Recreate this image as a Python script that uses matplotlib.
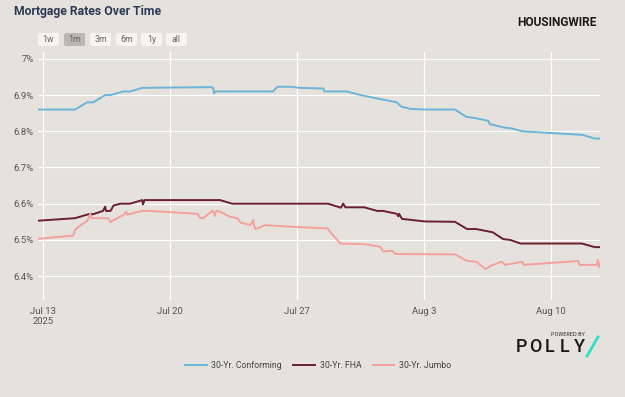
"""Mortgage rates over time (HousingWire / Polly style)."""

import matplotlib
matplotlib.use("Agg")
import matplotlib.pyplot as plt
from matplotlib.patches import FancyBboxPatch
import pandas as pd

# -----------------------------------------------------------------------
# Data
# -----------------------------------------------------------------------
conf_t = ["07-12 17:00", "07-14 18:00", "07-15 10:00", "07-15 18:00", "07-16 10:00",
          "07-16 17:00", "07-17 10:00", "07-17 19:00", "07-18 11:00", "07-22 05:00",
          "07-22 09:00", "07-22 10:00", "07-22 12:00", "07-25 16:00", "07-25 22:00",
          "07-26 15:00", "07-27 04:00", "07-28 11:00", "07-28 12:00", "07-29 18:00",
          "07-30 12:00", "07-31 14:00", "08-01 12:00", "08-01 18:00", "08-02 06:00",
          "08-03 01:00", "08-04 17:00", "08-05 08:00", "08-05 21:00", "08-06 13:00",
          "08-06 15:00", "08-07 11:00", "08-07 20:00", "08-08 10:00", "08-11 18:00",
          "08-12 10:00", "08-12 17:00"]
conf_v = [6.86, 6.86, 6.88, 6.88, 6.90, 6.90, 6.91, 6.91, 6.92, 6.922,
          6.92, 6.905, 6.91, 6.91, 6.923, 6.923, 6.92, 6.918, 6.91, 6.91,
          6.90, 6.889, 6.88, 6.868, 6.862, 6.86, 6.86, 6.84, 6.836, 6.829,
          6.82, 6.81, 6.808, 6.80, 6.79, 6.78, 6.78]

fha_t = ["07-12 17:00", "07-14 18:00", "07-15 12:00", "07-15 18:00", "07-16 07:00",
         "07-16 10:00", "07-16 11:00", "07-16 17:00", "07-16 21:00", "07-17 06:00",
         "07-17 19:00", "07-18 11:00", "07-18 12:00", "07-18 14:00", "07-22 18:00",
         "07-23 10:00", "07-28 17:00", "07-29 10:00", "07-29 13:00", "07-29 16:00",
         "07-30 17:00", "07-31 10:00", "07-31 18:00", "08-01 12:00", "08-01 14:00",
         "08-01 15:00", "08-01 19:00", "08-03 01:00", "08-04 17:00", "08-05 09:00",
         "08-05 21:00", "08-06 19:00", "08-07 09:00", "08-07 18:00", "08-08 08:00",
         "08-11 17:00", "08-12 10:00", "08-12 17:00"]
fha_v = [6.553, 6.56, 6.571, 6.571, 6.58, 6.592, 6.58, 6.58, 6.595, 6.60,
         6.60, 6.61, 6.598, 6.61, 6.61, 6.60, 6.60, 6.589, 6.60, 6.59,
         6.59, 6.58, 6.58, 6.572, 6.565, 6.572, 6.558, 6.551, 6.55, 6.53,
         6.53, 6.521, 6.502, 6.50, 6.49, 6.49, 6.48, 6.48]

jumbo_t = ["07-12 17:00", "07-14 16:00", "07-14 18:00", "07-15 01:00", "07-15 10:00",
           "07-15 13:00", "07-15 14:00", "07-15 16:00", "07-16 14:00", "07-16 17:00",
           "07-16 23:00", "07-17 10:00", "07-17 14:00", "07-17 15:00", "07-17 19:00",
           "07-18 11:00", "07-18 22:00", "07-21 12:00", "07-21 16:00", "07-21 20:00",
           "07-22 08:00", "07-22 10:00", "07-22 11:00", "07-22 13:00", "07-22 18:00",
           "07-23 07:00", "07-23 17:00", "07-23 21:00", "07-24 10:00", "07-24 14:00",
           "07-24 15:00", "07-24 17:00", "07-24 20:00", "07-25 06:00", "07-25 12:00",
           "07-27 04:00", "07-28 16:00", "07-29 09:00", "07-30 18:00", "07-31 14:00",
           "07-31 18:00", "08-01 06:00", "08-01 10:00", "08-04 17:00", "08-05 09:00",
           "08-05 21:00", "08-06 10:00", "08-06 14:00", "08-06 22:00", "08-07 07:00",
           "08-07 11:00", "08-07 20:00", "08-08 10:00", "08-08 12:00", "08-11 12:00",
           "08-11 14:00", "08-12 13:00", "08-12 14:00", "08-12 16:00", "08-12 17:00"]
jumbo_v = [6.503, 6.512, 6.528, 6.54, 6.552, 6.565, 6.572, 6.56, 6.56, 6.549,
           6.557, 6.569, 6.578, 6.57, 6.572, 6.58, 6.58, 6.572, 6.56, 6.56,
           6.581, 6.576, 6.566, 6.58, 6.578, 6.564, 6.56, 6.548, 6.541, 6.555,
           6.54, 6.53, 6.532, 6.541, 6.54, 6.535, 6.532, 6.49, 6.488, 6.481,
           6.468, 6.47, 6.461, 6.46, 6.442, 6.44, 6.419, 6.426, 6.433, 6.44,
           6.431, 6.434, 6.44, 6.431, 6.442, 6.431, 6.431, 6.445, 6.425, 6.435]

series = [
    ("30-Yr. Conforming", conf_t, conf_v, "#6cb4d8"),
    ("30-Yr. FHA", fha_t, fha_v, "#6b1e2c"),
    ("30-Yr. Jumbo", jumbo_t, jumbo_v, "#f4a19c"),
]

y_ticks = [6.4, 6.5, 6.6, 6.7, 6.8, 6.9, 7.0]
y_labels = ["6.4%", "6.5%", "6.6%", "6.7%", "6.8%", "6.9%", "7%"]
x_ticks = ["2025-07-13", "2025-07-20", "2025-07-27", "2025-08-03", "2025-08-10"]
x_labels = ["Jul 13\n2025", "Jul 20", "Jul 27", "Aug 3", "Aug 10"]
buttons = ["1w", "1m", "3m", "6m", "1y", "all"]

# -----------------------------------------------------------------------
# Plot
# -----------------------------------------------------------------------
BG = "#e5e2dd"
plt.rcParams["font.family"] = ["Roboto", "DejaVu Sans"]

fig = plt.figure(figsize=(6.25, 3.97), dpi=100, facecolor=BG)
ax = fig.add_axes([38 / 625, 1 - 300 / 397, 562 / 625, 248 / 397], facecolor=BG)

for label, t, v, color in series:
    dates = pd.to_datetime(["2025-" + s for s in t])
    ax.plot(dates, v, color=color, linewidth=1.4, label=label)

ax.set_xlim(pd.Timestamp("2025-07-12 17:00"), pd.Timestamp("2025-08-12 17:00"))
ax.set_ylim(6.334, 7.019)
ax.set_yticks(y_ticks)
ax.set_yticklabels(y_labels)
ax.set_xticks(pd.to_datetime(x_ticks))
ax.set_xticklabels(x_labels)
ax.grid(True, color="white", linewidth=0.9)
ax.set_axisbelow(True)
for s in ax.spines.values():
    s.set_visible(False)
ax.tick_params(length=0, labelsize=6.8, colors="#555555", pad=3)
ax.tick_params(axis="x", pad=5)

# title and header
fig.text(14 / 625, 1 - 12 / 397, "Mortgage Rates Over Time", fontsize=8.8,
         fontweight="bold", color="#2e3b57", va="center", ha="left")
fig.text(597 / 625, 1 - 22 / 397, "HOUSINGWIRE", fontsize=8.6, fontweight="bold",
         color="#1a1a1a", va="center", ha="right")

# range selector buttons
bx = [38, 64, 90, 116, 141, 166]
for x0, b in zip(bx, buttons):
    sel = b == "1m"
    fig.patches.append(FancyBboxPatch(
        (x0 / 625, 1 - 46 / 397), 21 / 625, 13 / 397,
        boxstyle="round,pad=0,rounding_size=0.004",
        transform=fig.transFigure, facecolor="#b9b7b4" if sel else "#f6f4f1",
        edgecolor="none"))
    fig.text((x0 + 10.5) / 625, 1 - 39.5 / 397, b, fontsize=6.3, color="#666666",
             ha="center", va="center")

# powered by polly
fig.text(568 / 625, 1 - 334 / 397, "POWERED BY", fontsize=4, color="#333333",
         ha="center", va="center")
for i, ch in enumerate("POLLY"):
    fig.text((521 + 14.5 * i) / 625, 1 - 347 / 397, ch, fontsize=13, color="#1a1a1a",
             fontweight="medium", ha="center", va="center")
fig.add_artist(plt.Line2D([587 / 625, 598 / 625], [1 - 356 / 397, 1 - 337 / 397],
                          transform=fig.transFigure, color="#2ee0c8", linewidth=2))

fig.legend(loc="center", bbox_to_anchor=(318 / 625, 1 - 366 / 397), ncol=3,
           frameon=False, fontsize=6.3, handlelength=2.5, handletextpad=0.5,
           columnspacing=1.3, labelcolor="#444444")

fig.savefig("out.png", dpi=100, facecolor=BG)
